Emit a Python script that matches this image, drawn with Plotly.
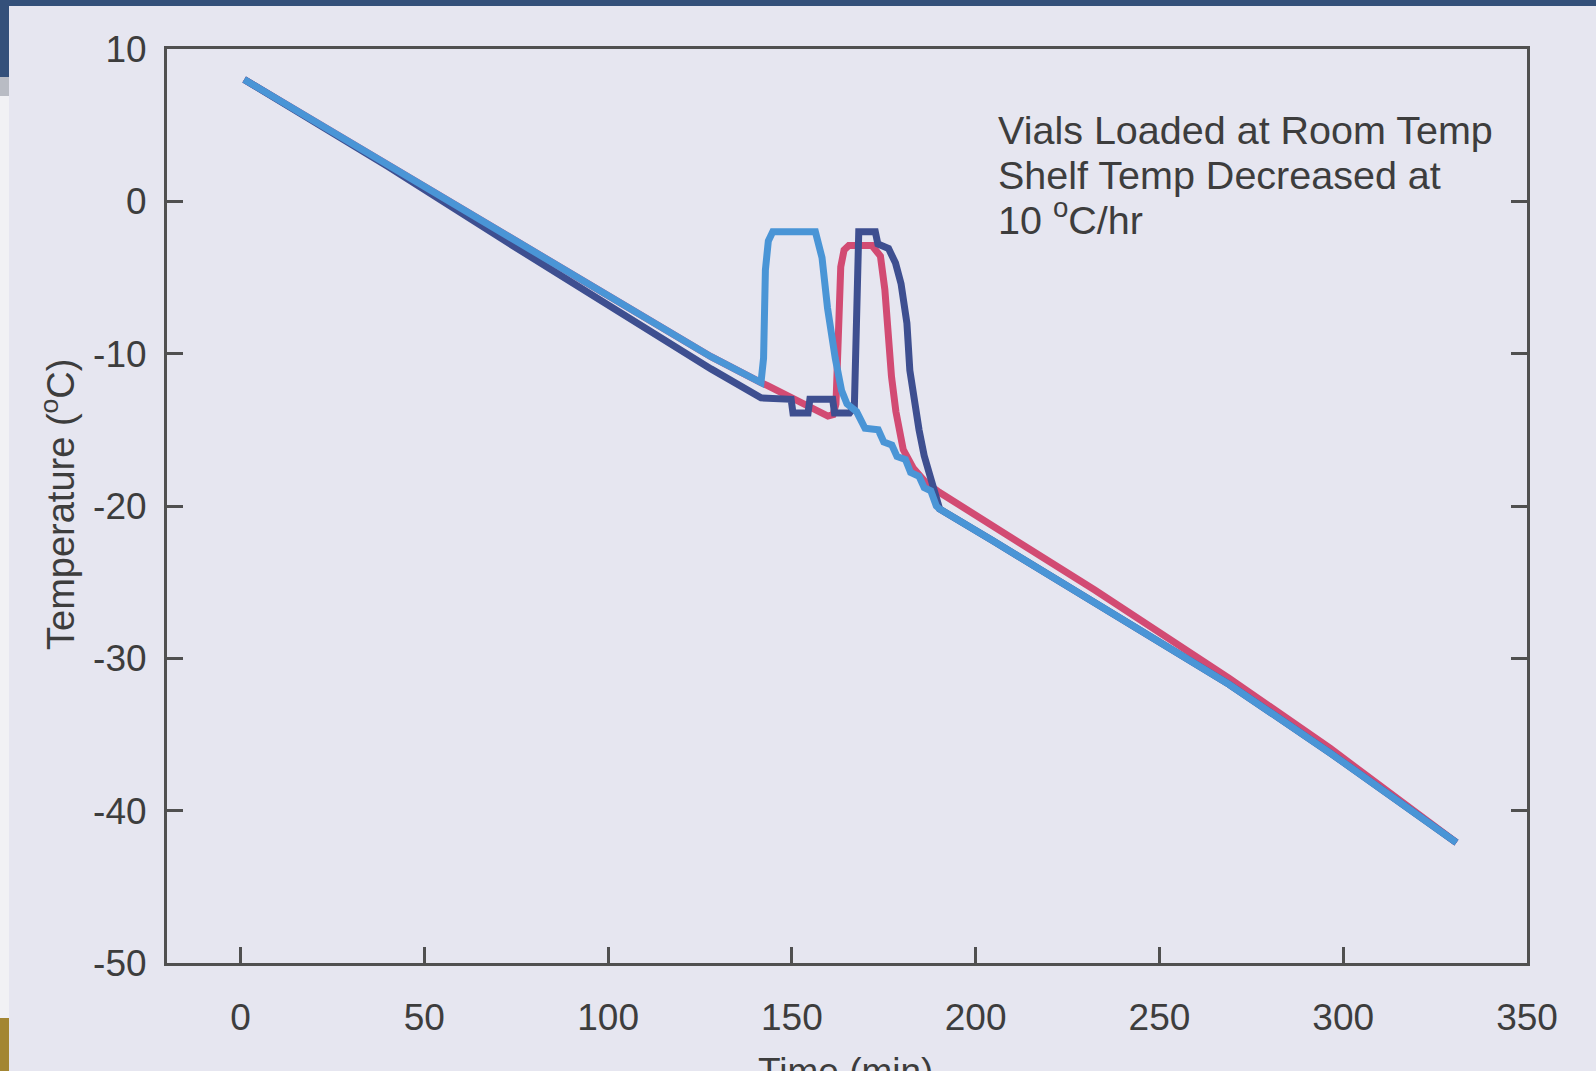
import plotly.graph_objects as go

# ---- data: product temperature during controlled shelf cooling ----
# probe A (light blue)
time_a = [1, 40, 74, 128, 141.6, 142.3, 142.8, 143.6, 144.8, 156.4, 158.2, 159.7,
          161.8, 163.5, 165.0, 167.6, 169.9, 173.5, 175.0, 177.2, 178.6, 180.9,
          182.3, 184.6, 186.0, 187.8, 189.3, 190.2, 204.8, 232.3, 268.9, 296.4, 330.8]
temp_a = [8.0, 2.4, -2.4, -10.2, -11.9, -10.3, -4.5, -2.6, -2.0, -2.0, -3.7, -7.0,
          -10.3, -12.4, -13.3, -13.8, -14.9, -15.0, -15.8, -16.0, -16.75, -16.95,
          -17.8, -18.05, -18.8, -19.0, -20.0, -20.2, -22.3, -26.3, -31.7, -36.2, -42.1]

# probe B (navy)
time_b = [1, 40, 74, 128, 141.6, 149.8, 150.3, 154.4, 154.9, 161.1, 161.6, 165.7,
          167.0, 167.6, 168.2, 172.7, 173.4, 176.3, 178.2, 179.7, 181.3, 182.1,
          183.3, 184.6, 186.0, 187.5, 188.8, 190.2, 204.8, 232.3, 268.9, 296.4, 330.8]
temp_b = [8.0, 2.3, -2.9, -11.0, -12.9, -13.0, -13.9, -13.9, -13.0, -13.0, -13.9, -13.9,
          -13.5, -8.0, -2.0, -2.0, -2.8, -3.1, -4.05, -5.4, -8.0, -11.1,
          -13.2, -15.0, -16.7, -17.9, -18.8, -20.2, -22.3, -26.3, -31.7, -36.2, -42.1]

# probe C (rose)
time_c = [1, 40, 74, 128, 141.6, 143.4, 159.8, 161.2, 162.0, 162.6, 163.3, 164.2,
          165.5, 171.8, 174.1, 175.3, 176.3, 177.1, 178.3, 180.3, 183.0, 186.4,
          190.1, 204.8, 232.3, 268.9, 296.4, 330.8]
temp_c = [8.0, 2.4, -2.4, -10.2, -11.9, -12.1, -14.1, -14.0, -13.3, -8.1, -4.3, -3.2,
          -2.9, -2.9, -3.6, -5.8, -9.0, -11.5, -13.8, -16.3, -17.5, -18.45,
          -19.1, -21.3, -25.5, -31.3, -35.9, -42.1]

x_ticks = [0, 50, 100, 150, 200, 250, 300, 350]
y_ticks = [10, 0, -10, -20, -30, -40, -50]
y_tick_text = ["10", "0", "-10", "-20", "-30", "-40", "-50"]

note_lines = ["Vials Loaded at Room Temp", "Shelf Temp Decreased at", "10 <sup>o</sup>C/hr"]
x_title = "Time (min)"
y_title = "Temperature (<sup>o</sup>C)"

# ---- page geometry (pixels) ----
W, H = 1596, 1071
ML, MR, MT, MB = 167, 69, 49, 108
PW, PH = W - ML - MR, H - MT - MB


def px(x, y):
    """Page pixel -> paper coordinates."""
    return (x - ML) / PW, (H - MB - y) / PH


FONT = "Liberation Sans, Arial, sans-serif"
INK = "#3d3d3d"
AXIS = "#505050"
BG = "#e6e6f0"

fig = go.Figure()
for t, v, col in [(time_c, temp_c, "#d24b73"),
                  (time_b, temp_b, "#3e4f90"),
                  (time_a, temp_a, "#4a95d6")]:
    fig.add_trace(go.Scatter(x=t, y=v, mode="lines",
                             line=dict(color=col, width=7),
                             showlegend=False, hoverinfo="skip"))

fig.update_xaxes(range=[-20, 350], tickvals=x_ticks, ticks="inside", ticklen=16,
                 tickwidth=2.5, tickcolor=AXIS, showline=True, linecolor=AXIS,
                 linewidth=3, mirror=True, showgrid=False, zeroline=False,
                 ticklabelstandoff=20,
                 tickfont=dict(family=FONT, size=37, color=INK))
fig.update_yaxes(range=[-50, 10], tickvals=y_ticks, ticktext=y_tick_text,
                 ticks="inside", ticklen=16,
                 tickwidth=2.5, tickcolor=AXIS, showline=True, linecolor=AXIS,
                 linewidth=3, mirror="ticks", showgrid=False, zeroline=False,
                 ticklabelstandoff=10,
                 tickfont=dict(family=FONT, size=37, color=INK))

annotations = []
for line, yc in zip(note_lines, [130, 175, 217]):
    ax, ay = px(996, yc)
    annotations.append(dict(x=ax, y=ay, xref="paper", yref="paper", text=line,
                            showarrow=False, xanchor="left", yanchor="middle",
                            font=dict(family=FONT, size=39.5, color=INK)))
tx, ty = px(845, 1049)
annotations.append(dict(x=tx, y=ty, xref="paper", yref="paper", text=x_title,
                        showarrow=False, xanchor="center", yanchor="top",
                        font=dict(family=FONT, size=37, color=INK)))
yx, yy = px(58, 504)
annotations.append(dict(x=yx, y=yy, xref="paper", yref="paper", text=y_title,
                        showarrow=False, textangle=-90, xanchor="center",
                        yanchor="middle",
                        font=dict(family=FONT, size=38, color=INK)))

# slide frame around the chart panel
shapes = []


def band(x0, y0, x1, y1, color):
    a0, b0 = px(x0, y0)
    a1, b1 = px(x1, y1)
    shapes.append(dict(type="rect", xref="paper", yref="paper", x0=a0, y0=b1,
                       x1=a1, y1=b0, fillcolor=color, line=dict(width=0),
                       layer="below"))


band(0, 0, W, 6, "#34507a")
band(0, 0, 9, 77, "#34507a")
band(0, 77, 9, 96, "#b9bcc4")
band(0, 96, 9, 1018, "#f1f1f4")
band(0, 1018, 9, H, "#a38632")

fig.update_layout(width=W, height=H, margin=dict(l=ML, r=MR, t=MT, b=MB),
                  paper_bgcolor=BG, plot_bgcolor=BG,
                  annotations=annotations, shapes=shapes)

fig.write_html("out.html")
